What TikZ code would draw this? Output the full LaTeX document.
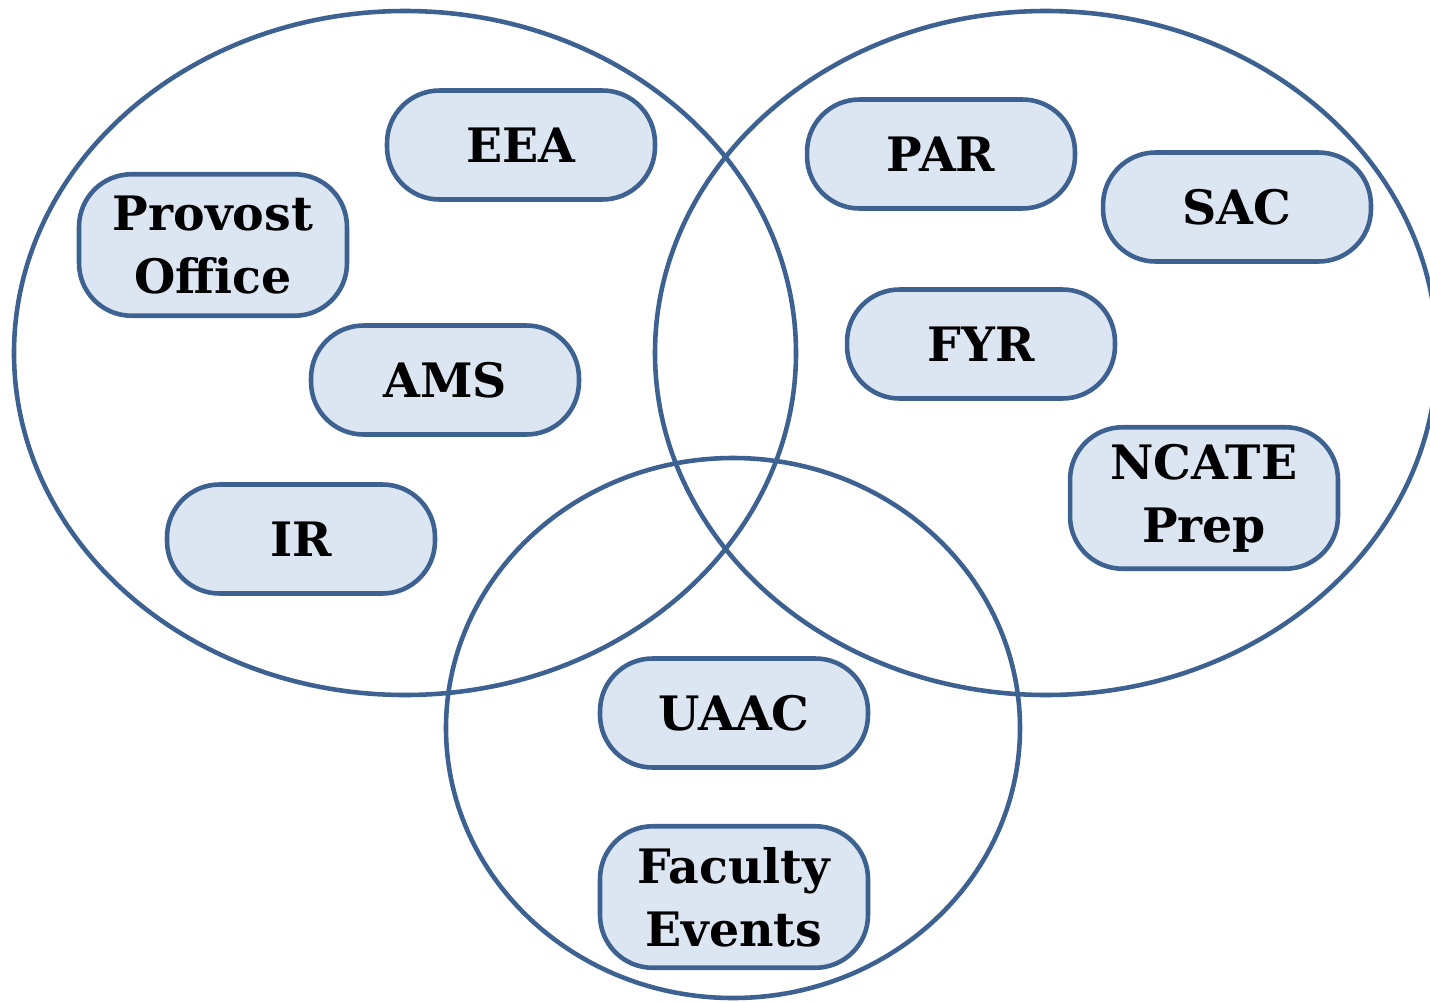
\documentclass[tikz,border=0pt]{standalone}
\usepackage{fontspec}
\setmainfont{DejaVu Serif}
\usepackage{tikz}
\usetikzlibrary{positioning}
\definecolor{ringblue}{HTML}{3D6190}
\definecolor{unitfill}{HTML}{DCE6F2}
\tikzset{
  ring/.style ={draw=ringblue, line width=2.6pt},
  unit/.style ={draw=ringblue, fill=unitfill, line width=2.6pt,
                rounded corners=1.05cm, align=center,
                minimum width=5.36cm, minimum height=2.18cm,
                font=\fontsize{27}{36}\selectfont\bfseries, inner sep=2pt},
  tall/.style ={minimum height=2.83cm},
}

\begin{document}
\begin{tikzpicture}[x=0.02cm, y=-0.02cm]
  \useasboundingbox[fill=white] (0,0) rectangle (1430,1001);

  % the three groups
  \draw[ring] (405,353) ellipse [x radius=391, y radius=342];
  \draw[ring] (1046,353) ellipse [x radius=391, y radius=342];
  \draw[ring] (733,728) ellipse [x radius=287, y radius=270];

  % left group
  \node[unit]       (eea)  at (521,145) {EEA};
  \node[unit, tall] (prov) at (213,245) {Provost\\Office};
  \node[unit]       (ams)  at (445,380) {AMS};
  \node[unit]       (ir)   at (301,539) {IR};

  % right group
  \node[unit]       (par)  at (941,154) {PAR};
  \node[unit]       (sac)  at (1237,207) {SAC};
  \node[unit]       (fyr)  at (981,344) {FYR};
  \node[unit, tall] (ncate) at (1204,498) {NCATE\\Prep};

  % bottom group
  \node[unit]       (uaac) at (734,713) {UAAC};
  \node[unit, tall] (fac)  at (734,897) {Faculty\\Events};
\end{tikzpicture}
\end{document}
